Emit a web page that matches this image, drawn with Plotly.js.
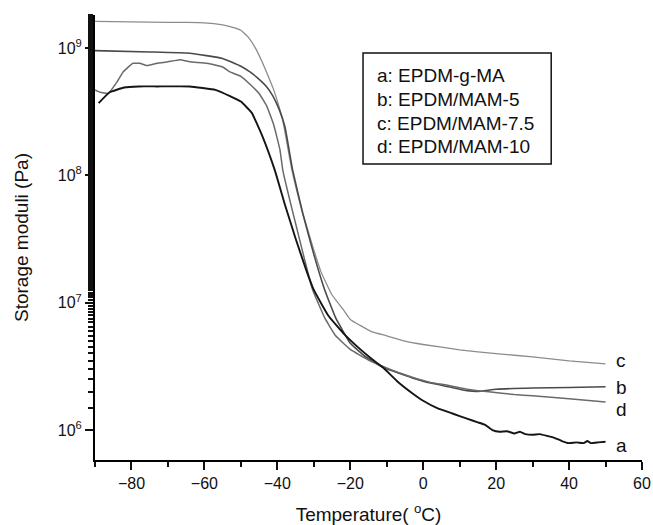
<!DOCTYPE html>
<html>
<head>
<meta charset="utf-8">
<script src="https://cdn.plot.ly/plotly-3.0.1.min.js"></script>
<style>html,body{margin:0;padding:0;background:#fff;}#chart{width:653px;height:525px;}</style>
</head>
<body>
<div id="chart"></div>
<script>
// Curve a: EPDM-g-MA
const tempA = [-89,-86,-82,-78,-73,-64,-57,-53,-50,-47,-44,-40.7,-38,-35,-32,-30,-26,-22,-18,-14,-11,-7,-3,0,4,8,12,15,17,19,21,23,25,26.5,28,30,32,34,36,38,40,42,44,45,46,48,50];
const modA = [3.7e8,4.5e8,4.9e8,5.0e8,5.0e8,5.0e8,4.7e8,4.2e8,3.8e8,3.1e8,2.0e8,1.1e8,6.0e7,3.2e7,1.78e7,1.26e7,7.9e6,5.8e6,4.5e6,3.6e6,3.1e6,2.4e6,1.95e6,1.7e6,1.48e6,1.35e6,1.23e6,1.15e6,1.1e6,1.0e6,9.7e5,9.8e5,9.4e5,9.7e5,9.3e5,9.2e5,9.3e5,9.0e5,8.7e5,8.2e5,7.9e5,8.0e5,7.9e5,8.2e5,7.9e5,8.0e5,8.1e5];

// Curve b: EPDM/MAM-5
const tempB = [-90,-75,-64,-55,-50,-47.5,-45.6,-43,-41.2,-39.5,-37.9,-35.8,-33,-30,-27,-24,-20,-16,-11,-7,-3,2,7,12,15,20,30,40,50];
const modB = [9.55e8,9.33e8,9.12e8,8.3e8,7.2e8,6.5e8,5.9e8,5.0e8,4.2e8,3.3e8,2.4e8,1.1e8,5.0e7,2.4e7,1.26e7,7.6e6,4.8e6,3.8e6,3.1e6,2.82e6,2.57e6,2.34e6,2.19e6,2.04e6,2.01e6,2.09e6,2.14e6,2.16e6,2.19e6];

// Curve c: EPDM/MAM-7.5
const tempC = [-90,-75,-65,-60,-55,-52,-50,-48,-46,-44,-42.5,-41,-39.7,-38.5,-36,-33,-30,-28,-25,-22,-20,-14,-10,-5,0,10,20,30,40,50];
const modC = [1.62e9,1.60e9,1.59e9,1.58e9,1.52e9,1.45e9,1.38e9,1.22e9,1.0e9,7.6e8,6.0e8,4.7e8,3.6e8,2.7e8,1.1e8,5.0e7,2.6e7,1.74e7,1.15e7,8.9e6,7.4e6,5.9e6,5.5e6,5.0e6,4.7e6,4.27e6,3.98e6,3.76e6,3.5e6,3.31e6];

// Curve d: EPDM/MAM-10
const tempD = [-90,-88.6,-86.4,-84,-82.3,-79.6,-77.7,-75.8,-73,-70,-66.7,-64,-59.3,-55,-53,-50,-47.5,-45,-42.9,-41,-39.3,-38.5,-35,-30.3,-27,-24,-20,-15,-11,-7,-3,2,7,12,15,18,25,30,40,50];
const modD = [4.7e8,4.5e8,4.4e8,5.4e8,6.5e8,7.6e8,7.6e8,7.3e8,7.6e8,7.8e8,8.1e8,7.8e8,7.6e8,7.1e8,6.5e8,6.0e8,5.2e8,4.4e8,3.5e8,2.5e8,1.6e8,1.1e8,4.2e7,1.26e7,7.6e6,5.5e6,4.3e6,3.55e6,3.16e6,2.85e6,2.6e6,2.37e6,2.24e6,2.09e6,2.04e6,2.0e6,1.9e6,1.86e6,1.76e6,1.66e6];

const legendLines = ["a: EPDM-g-MA","b: EPDM/MAM-5","c: EPDM/MAM-7.5","d: EPDM/MAM-10"];
const endLabels = ["a","b","c","d"];
const endLabelY = [7.6e5,2.15e6,3.55e6,1.45e6];

const xTickVals = [-80,-60,-40,-20,0,20,40,60];
const yTickVals = [1e6,1e7,1e8,1e9];
const yTickText = ["10<sup>6</sup>","10<sup>7</sup>","10<sup>8</sup>","10<sup>9</sup>"];

const font = "Liberation Sans, Arial, sans-serif";
const xRange = [-90, 60];
const yRange = [5.765, 9.26];

const traces = [
  {x: tempC, y: modC, mode: "lines", line: {color: "#8c8c8c", width: 1.3, shape: "spline", smoothing: 0.3}},
  {x: tempB, y: modB, mode: "lines", line: {color: "#4a4a4a", width: 1.6, shape: "spline", smoothing: 0.3}},
  {x: tempD, y: modD, mode: "lines", line: {color: "#6a6a6a", width: 1.5, shape: "spline", smoothing: 0.3}},
  {x: tempA, y: modA, mode: "lines", line: {color: "#151515", width: 1.9, shape: "spline", smoothing: 0.3}}
];

const annotations = legendLines.map((t, i) => ({
  xref: "paper", yref: "paper", x: 0.512, y: 0.863 - i * 0.053,
  xanchor: "left", yanchor: "middle", text: t, showarrow: false,
  font: {size: 19}
}));
endLabels.forEach((t, i) => annotations.push({
  xref: "x", yref: "y", x: 52.2, y: Math.log10(endLabelY[i]),
  xanchor: "left", yanchor: "middle", text: t, showarrow: false,
  font: {size: 19}
}));

const layout = {
  width: 653, height: 525,
  margin: {l: 95, r: 11, t: 15, b: 65},
  showlegend: false,
  font: {family: font, size: 16, color: "#111"},
  xaxis: {
    range: xRange, tickvals: xTickVals,
    ticks: "outside", ticklen: 8, tickwidth: 2, tickcolor: "#111",
    showline: true, linewidth: 2, linecolor: "#000", showgrid: false, zeroline: false,
    minor: {ticks: "outside", ticklen: 5, tickcolor: "#111"},
    title: {text: "Temperature( <sup>o</sup>C)", font: {size: 19}}
  },
  yaxis: {
    type: "log", range: yRange, tickvals: yTickVals, ticktext: yTickText,
    ticks: "outside", ticklen: 8, tickwidth: 2, tickcolor: "#111",
    showline: true, linewidth: 2, linecolor: "#000", showgrid: false, zeroline: false,
    minor: {ticks: "outside", ticklen: 5, tickcolor: "#111"},
    title: {text: "Storage moduli (Pa)", font: {size: 19}, standoff: 24}
  },
  shapes: [{type: "rect", xref: "paper", yref: "paper", x0: 0.490, x1: 0.834, y0: 0.665, y1: 0.9146,
            line: {color: "#111", width: 1.5}, fillcolor: "rgba(0,0,0,0)"}],
  annotations: annotations
};

Plotly.newPlot("chart", traces, layout, {displayModeBar: false});
</script>
</body>
</html>
